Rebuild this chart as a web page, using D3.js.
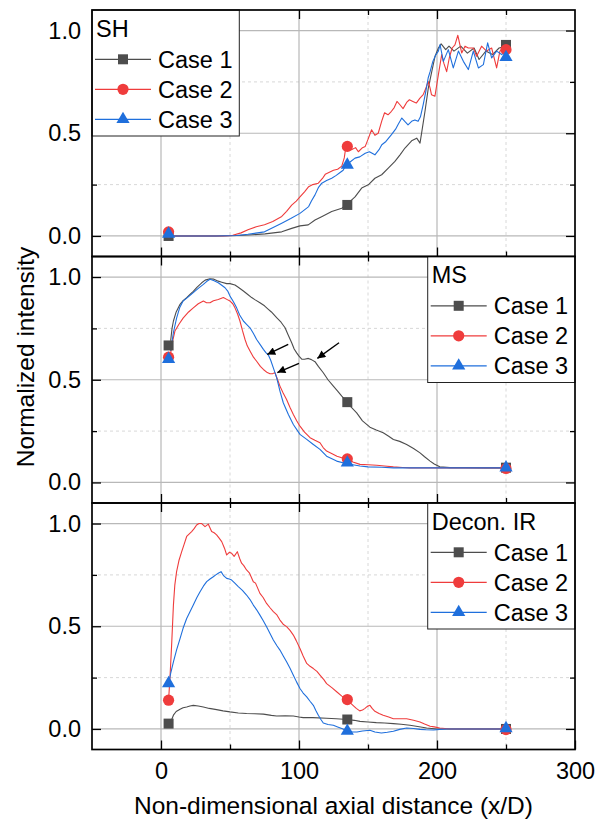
<!DOCTYPE html>
<html><head><meta charset="utf-8">
<script src="https://cdn.jsdelivr.net/npm/d3@7"></script>
<style>body{margin:0;background:#fff} svg{display:block} text{font-family:Arial,"Liberation Sans",sans-serif;fill:#000}</style>
</head><body><svg id="c" width="598" height="824"></svg>
<script>
// ---------------- DATA ----------------
const caseNames = ["Case 1", "Case 2", "Case 3"];
const panelTitles = ["SH", "MS", "Decon. IR"];
const xTickLabels = [0, 100, 200, 300];
const yTickLabels = [0.0, 0.5, 1.0];
const markerX = [5.5, 135, 250];

// SH (top panel) profiles [x/D, intensity]
const shCase1 = [[6,0],[20,0],[40,0],[55,0.002],[63.3,0.005],[75.4,0.01],[87.5,0.02],[94.7,0.037],[100.7,0.049],[106.7,0.054],[111.6,0.078],[116.4,0.094],[123.7,0.119],[131,0.135],[134.3,0.151],[140.6,0.19],[145.4,0.233],[150.2,0.249],[155,0.281],[159.9,0.298],[164.7,0.33],[169.5,0.363],[173.2,0.395],[176.8,0.428],[181.6,0.463],[185.3,0.476],[187.7,0.452],[189.4,0.525],[191.3,0.607],[193.7,0.72],[196.2,0.8],[198.6,0.875],[201,0.915],[203,0.935],[206.3,0.907],[208.7,0.924],[212.3,0.9],[217.2,0.924],[222,0.89],[226.9,0.915],[230.5,0.859],[235.4,0.9],[240.2,0.883],[245,0.915],[249.8,0.924]];
const shCase2 = [[6,0],[30,0],[45,0],[52,0.003],[58,0.015],[63,0.03],[69,0.045],[75,0.055],[81,0.07],[87.5,0.095],[91,0.12],[94.7,0.15],[98,0.17],[100.7,0.19],[104,0.215],[107,0.24],[110,0.25],[114,0.257],[117,0.28],[119,0.3],[122,0.31],[125,0.32],[128,0.325],[131,0.34],[132.8,0.38],[134,0.436],[136,0.425],[138,0.42],[141,0.43],[143,0.41],[146,0.43],[148,0.436],[150,0.47],[152.6,0.517],[155,0.49],[157.4,0.5],[160,0.56],[162,0.6],[164.5,0.59],[167,0.607],[169,0.625],[171,0.655],[173,0.64],[175.4,0.62],[178,0.65],[180,0.663],[182.5,0.655],[185,0.647],[187.5,0.67],[190,0.688],[192,0.72],[193.6,0.753],[195,0.72],[196,0.688],[198.5,0.68],[201,0.785],[203.4,0.883],[205,0.84],[207,0.8],[209,0.87],[211,0.915],[213,0.93],[215.1,0.977],[217.9,0.891],[220.3,0.924],[222.7,0.915],[226.3,0.915],[228.7,0.875],[232.3,0.924],[235.9,0.9],[239.6,0.915],[243.2,0.818],[245.6,0.9],[248,0.915]];
const shCase3 = [[6,0],[40,0],[55,0.002],[63,0.008],[75,0.02],[87.5,0.062],[94,0.085],[100.7,0.11],[107,0.143],[109,0.17],[111.6,0.2],[114,0.235],[116.5,0.257],[120,0.27],[123.7,0.281],[127,0.295],[130,0.31],[132,0.32],[134,0.346],[137,0.36],[140.6,0.379],[144,0.385],[148,0.403],[151,0.41],[155,0.395],[158,0.42],[160,0.444],[163,0.46],[167,0.493],[170,0.52],[172,0.545],[174.5,0.574],[177,0.555],[179,0.541],[182,0.56],[184,0.565],[186.3,0.558],[188,0.58],[190,0.639],[191.8,0.7],[193.6,0.769],[195,0.8],[197,0.85],[199,0.88],[201,0.9],[202.2,0.932],[204.6,0.85],[208.2,0.907],[211.8,0.818],[215.5,0.9],[219.1,0.85],[222.7,0.81],[226.3,0.9],[230,0.818],[233.6,0.834],[236.7,0.94],[239.6,0.867],[243.2,0.9],[246.9,0.883],[249.3,0.9]];
const shMarks1 = [0.0, 0.151, 0.93];
const shMarks2 = [0.02, 0.436, 0.907];
const shMarks3 = [0.01, 0.346, 0.87];

// MS (middle panel)
const msCase1 = [[7,0.69],[8,0.75],[9,0.786],[11,0.83],[13.8,0.867],[16,0.885],[18.6,0.9],[21,0.915],[23.4,0.93],[26,0.95],[29.5,0.972],[32,0.985],[35.5,0.992],[38,0.99],[41.5,0.98],[44,0.975],[47.6,0.968],[50,0.968],[53.6,0.961],[56,0.95],[59.7,0.932],[62,0.92],[65.7,0.9],[68,0.89],[71.7,0.875],[75,0.86],[77.8,0.843],[80,0.83],[83.8,0.802],[87,0.78],[89.9,0.753],[92,0.72],[94.7,0.68],[96.5,0.65],[98.3,0.631],[100,0.615],[102,0.6],[104,0.6],[106.8,0.604],[109,0.598],[111.6,0.588],[114,0.565],[117.6,0.534],[121,0.5],[124.9,0.469],[128,0.445],[131,0.42],[135,0.391],[138,0.365],[141.8,0.339],[146,0.3],[151.4,0.269],[156,0.255],[161,0.242],[165,0.225],[168.4,0.209],[173,0.2],[178,0.185],[183,0.165],[187.7,0.144],[191,0.125],[195,0.104],[198,0.09],[202,0.076],[209.4,0.072],[220,0.072],[235,0.071],[249,0.071]];
const msCase2 = [[7,0.63],[8.5,0.69],[10.1,0.737],[13,0.77],[16,0.8],[20,0.83],[23.4,0.85],[27,0.87],[30.7,0.883],[33,0.875],[35.5,0.875],[38,0.885],[41.5,0.891],[45.2,0.9],[48,0.89],[50,0.883],[52,0.87],[53.6,0.85],[55.5,0.82],[57.2,0.786],[59,0.74],[60.9,0.696],[62.5,0.665],[64.5,0.64],[67,0.61],[69.3,0.59],[72,0.565],[74.2,0.55],[77,0.535],[79,0.529],[81,0.53],[82.6,0.534],[84.5,0.5],[86.2,0.469],[88.5,0.435],[91,0.404],[93.5,0.365],[95.9,0.331],[98.3,0.3],[100.7,0.274],[104,0.245],[108,0.218],[111.5,0.205],[115.2,0.193],[117.5,0.17],[120,0.153],[124,0.14],[127.5,0.128],[131,0.12],[135,0.115],[139,0.1],[144.2,0.088],[150,0.086],[156.3,0.084],[162,0.08],[168.4,0.076],[175,0.073],[180.4,0.071],[200,0.071],[249,0.071]];
const msCase3 = [[7,0.64],[9,0.73],[11.3,0.8],[13.5,0.85],[16,0.883],[20,0.905],[23.4,0.924],[27,0.945],[30.7,0.964],[33,0.978],[35.5,0.989],[38.5,0.982],[41.5,0.972],[44,0.96],[46.4,0.948],[48.5,0.93],[50,0.907],[52.5,0.88],[54.8,0.85],[57,0.815],[59.7,0.786],[62,0.77],[64.5,0.753],[67,0.725],[69.3,0.696],[72,0.67],[74.2,0.648],[76,0.632],[77.8,0.62],[79.5,0.595],[81.4,0.558],[83.8,0.51],[86.2,0.445],[88.6,0.388],[92.3,0.331],[95.9,0.282],[100.7,0.234],[105.6,0.21],[110.4,0.185],[115.2,0.161],[120,0.128],[127.3,0.104],[134.5,0.091],[139,0.086],[144.2,0.08],[150,0.076],[160,0.074],[168.4,0.071],[200,0.071],[249,0.071]];
const msMarks1 = [0.667, 0.391, 0.072];
const msMarks2 = [0.61, 0.115, 0.068];
const msMarks3 = [0.6, 0.096, 0.072];
const msArrows = [[92.2,0.672,77.0,0.623],[100,0.58,84.3,0.535],[129,0.68,113.3,0.604]];

// Decon. IR (bottom panel)
const irCase1 = [[7,0.03],[8,0.05],[9,0.067],[11,0.085],[13.8,0.096],[16,0.103],[18.6,0.107],[21,0.112],[23.4,0.115],[27,0.112],[30.7,0.107],[35,0.1],[40.3,0.094],[45,0.088],[50,0.083],[56,0.078],[62,0.075],[68,0.074],[74.2,0.072],[80,0.066],[83.8,0.063],[90,0.064],[95.9,0.063],[100,0.058],[103,0.055],[110,0.055],[120,0.052],[127,0.05],[135,0.046],[140,0.042],[144.2,0.037],[150,0.034],[156,0.031],[162,0.029],[168.4,0.026],[174,0.023],[180.4,0.018],[186,0.012],[192.5,0.005],[199.8,0],[249,0]];
const irCase2 = [[5.5,0.14],[6.5,0.25],[7.7,0.408],[9,0.603],[10,0.7],[11.3,0.766],[13,0.82],[15,0.863],[16.8,0.9],[18.6,0.937],[20.5,0.95],[22.2,0.961],[24,0.975],[25.8,0.993],[27.5,1.0],[29.5,1.0],[31.9,0.985],[34.3,0.997],[36.7,0.961],[38.5,0.955],[40.3,0.945],[42,0.93],[44,0.912],[46,0.88],[47.6,0.847],[49.5,0.86],[51.2,0.855],[53,0.84],[55.3,0.863],[57,0.83],[58.4,0.807],[60,0.795],[62,0.774],[64,0.76],[66.9,0.717],[68.5,0.71],[71.7,0.66],[74,0.64],[76.5,0.611],[79,0.59],[81.4,0.571],[84,0.555],[86.2,0.53],[88.5,0.51],[91,0.498],[93.5,0.48],[95.9,0.457],[98,0.43],[100.7,0.392],[103,0.355],[105.6,0.319],[108,0.305],[110.4,0.294],[113,0.28],[115.2,0.262],[118,0.24],[120,0.221],[124,0.2],[127.5,0.18],[131,0.16],[135,0.143],[137,0.128],[139.1,0.115],[141.5,0.1],[144,0.088],[146,0.092],[147.6,0.099],[149.5,0.11],[151.4,0.115],[153,0.1],[155,0.086],[158,0.075],[161,0.067],[165,0.058],[168.4,0.05],[173,0.05],[178,0.05],[183,0.042],[187.7,0.034],[191,0.024],[195,0.013],[198,0.01],[202,0.005],[209.4,0],[249,0]];
const irCase3 = [[5.5,0.22],[7,0.27],[9,0.327],[11.3,0.385],[13.8,0.44],[16,0.49],[18.6,0.538],[21,0.57],[23.4,0.603],[26,0.64],[28.3,0.668],[30.7,0.695],[33.1,0.717],[35.5,0.73],[37.9,0.741],[39.7,0.75],[41.5,0.758],[43.5,0.766],[45.5,0.745],[47.6,0.733],[49.5,0.73],[51.2,0.725],[53.5,0.71],[56,0.693],[59,0.675],[62,0.652],[64.5,0.63],[66.9,0.603],[69.3,0.58],[71.7,0.554],[74,0.528],[76.5,0.498],[79,0.465],[81.4,0.433],[84,0.405],[86.2,0.384],[88.6,0.355],[91,0.327],[93.5,0.295],[95.9,0.262],[98.3,0.228],[100.7,0.197],[103,0.175],[105.6,0.156],[108,0.135],[110.4,0.115],[112.2,0.09],[114,0.067],[116,0.045],[117.6,0.029],[121,0.022],[124.9,0.018],[128,0.01],[131,0.002],[135,-0.01],[138.5,-0.014],[142,-0.015],[146,-0.01],[151.4,-0.006],[155,-0.015],[159.7,-0.02],[164,-0.016],[168.4,-0.011],[173,-0.002],[178,0.005],[183,0.002],[187.7,-0.002],[192,-0.004],[197.5,-0.005],[202,-0.002],[207,0],[249,0]];
const irMarks1 = [0.026, 0.046, 0.0];
const irMarks2 = [0.14, 0.143, -0.003];
const irMarks3 = [0.222, -0.01, 0.003];

// ---------------- STYLE / LAYOUT ----------------
const colors = ["#4d4d4d", "#ef3c3c", "#1f6fdc"];
const W = 598, H = 824;
const left = 92, right = 575, top0 = 10, ph = 246.5;
const FS = 23.5;

const panels = [
  {title: panelTitles[0], lines: [shCase1, shCase2, shCase3], marks: [shMarks1, shMarks2, shMarks3], legend: "left"},
  {title: panelTitles[1], lines: [msCase1, msCase2, msCase3], marks: [msMarks1, msMarks2, msMarks3], legend: "right", arrows: msArrows},
  {title: panelTitles[2], lines: [irCase1, irCase2, irCase3], marks: [irMarks1, irMarks2, irMarks3], legend: "right"}
];

const svg = d3.select("#c");
svg.append("defs").append("marker")
  .attr("id", "ah").attr("markerUnits", "userSpaceOnUse")
  .attr("viewBox", "0 0 10 10").attr("refX", 10).attr("refY", 5)
  .attr("markerWidth", 10).attr("markerHeight", 8).attr("orient", "auto")
  .append("path").attr("d", "M0,0 L10,5 L0,10 Z").attr("fill", "#000");

const x = d3.scaleLinear().domain([-50, 300]).range([left, right]);

function drawMarker(g, type, cx, cy, color) {
  if (type === 0) {
    g.append("rect").attr("x", cx - 5).attr("y", cy - 5).attr("width", 10).attr("height", 10).attr("fill", color);
  } else if (type === 1) {
    g.append("circle").attr("cx", cx).attr("cy", cy).attr("r", 5.6).attr("fill", color);
  } else {
    const hw = 6.6, hh = 11.4;
    g.append("path").attr("d", `M${cx},${cy - hh * 2 / 3} L${cx + hw},${cy + hh / 3} L${cx - hw},${cy + hh / 3} Z`).attr("fill", color);
  }
}

panels.forEach((p, i) => {
  const top = top0 + ph * i, bottom = top + ph;
  const y = d3.scaleLinear().domain([-0.1, 1.1]).range([bottom, top]);
  const g = svg.append("g");

  // grid
  const xMajor = [0, 100, 200], xMinor = [50, 150, 250];
  const yMajor = [0, 0.5, 1.0], yMinor = [0.25, 0.75];
  g.selectAll(".gxm").data(xMinor).join("line")
    .attr("x1", d => x(d)).attr("x2", d => x(d)).attr("y1", top).attr("y2", bottom)
    .attr("stroke", "#d4d4d4").attr("stroke-width", 0.9).attr("stroke-dasharray", "3,3");
  g.selectAll(".gym").data(yMinor).join("line")
    .attr("x1", left).attr("x2", right).attr("y1", d => y(d)).attr("y2", d => y(d))
    .attr("stroke", "#d4d4d4").attr("stroke-width", 0.9).attr("stroke-dasharray", "3,3");
  g.selectAll(".gx").data(xMajor).join("line")
    .attr("x1", d => x(d)).attr("x2", d => x(d)).attr("y1", top).attr("y2", bottom)
    .attr("stroke", "#a9a9a9").attr("stroke-width", 1);
  g.selectAll(".gy").data(yMajor).join("line")
    .attr("x1", left).attr("x2", right).attr("y1", d => y(d)).attr("y2", d => y(d))
    .attr("stroke", "#b8b8b8").attr("stroke-width", 1.2);

  // ticks (inward) via d3 axes
  const addAxis = (axis, tx, ty, labels) => {
    const a = g.append("g").attr("transform", `translate(${tx},${ty})`).call(axis);
    a.select(".domain").remove();
    a.selectAll("line").attr("stroke", "#000").attr("stroke-width", 1.3);
    if (!labels) a.selectAll("text").remove();
    else a.selectAll("text").attr("font-size", FS).attr("font-family", "Arial, 'Liberation Sans', sans-serif").attr("fill", "#000");
    return a;
  };
  addAxis(d3.axisLeft(y).tickValues(yTickLabels).tickSize(-9).tickPadding(11).tickFormat(d3.format(".1f")), left, 0, true);
  addAxis(d3.axisLeft(y).tickValues(yMinor).tickSize(-5).tickFormat(""), left, 0, false);
  addAxis(d3.axisRight(y).tickValues(yTickLabels).tickSize(-9).tickFormat(""), right, 0, false);
  addAxis(d3.axisRight(y).tickValues(yMinor).tickSize(-5).tickFormat(""), right, 0, false);
  addAxis(d3.axisTop(x).tickValues(xMajor).tickSize(-9).tickFormat(""), 0, top, false);
  addAxis(d3.axisTop(x).tickValues(xMinor).tickSize(-5).tickFormat(""), 0, top, false);
  addAxis(d3.axisBottom(x).tickValues(i === 2 ? xTickLabels : xMajor).tickSize(-9).tickPadding(13).tickFormat(d3.format("d")), 0, bottom, i === 2);
  addAxis(d3.axisBottom(x).tickValues(xMinor).tickSize(-5).tickFormat(""), 0, bottom, false);

  // lines
  const line = d3.line().x(d => x(d[0])).y(d => y(d[1]));
  p.lines.forEach((data, k) => {
    g.append("path").datum(data).attr("d", line).attr("fill", "none")
      .attr("stroke", colors[k]).attr("stroke-width", 1.1).attr("stroke-linejoin", "round");
  });
  // markers
  p.marks.forEach((vals, k) => {
    vals.forEach((v, j) => drawMarker(g, k, x(markerX[j]), y(v), colors[k]));
  });

  // arrows
  if (p.arrows) {
    p.arrows.forEach(a => {
      g.append("line").attr("x1", x(a[0])).attr("y1", y(a[1])).attr("x2", x(a[2])).attr("y2", y(a[3]))
        .attr("stroke", "#000").attr("stroke-width", 1.4).attr("marker-end", "url(#ah)");
    });
  }

  // legend
  const lw = 147.3, lh = 126;
  const lx = p.legend === "left" ? left : right - lw;
  const lg = g.append("g");
  lg.append("rect").attr("x", lx).attr("y", top).attr("width", lw).attr("height", lh)
    .attr("fill", "#fff").attr("stroke", "#222").attr("stroke-width", 1);
  lg.append("text").attr("x", lx + 4).attr("y", top + 26.5).attr("font-size", FS).text(p.title);
  caseNames.forEach((n, k) => {
    const ry = top + 49.3 + 30 * k;
    lg.append("line").attr("x1", lx + 3).attr("x2", lx + 59).attr("y1", ry).attr("y2", ry)
      .attr("stroke", colors[k]).attr("stroke-width", 1.3);
    drawMarker(lg, k, lx + 31, ry, colors[k]);
    lg.append("text").attr("x", lx + 66).attr("y", ry).attr("dy", "0.35em").attr("font-size", FS).text(n);
  });

  // frame
  g.append("rect").attr("x", left).attr("y", top).attr("width", right - left).attr("height", ph)
    .attr("fill", "none").attr("stroke", "#000").attr("stroke-width", 1.7);
});

// axis titles
svg.append("text").attr("x", (left + right) / 2).attr("y", 814).attr("text-anchor", "middle")
  .attr("font-size", 24.5).text("Non-dimensional axial distance (x/D)");
svg.append("text").attr("transform", "translate(34,357) rotate(-90)").attr("text-anchor", "middle")
  .attr("font-size", 24.5).text("Normalized intensity");
</script></body></html>
